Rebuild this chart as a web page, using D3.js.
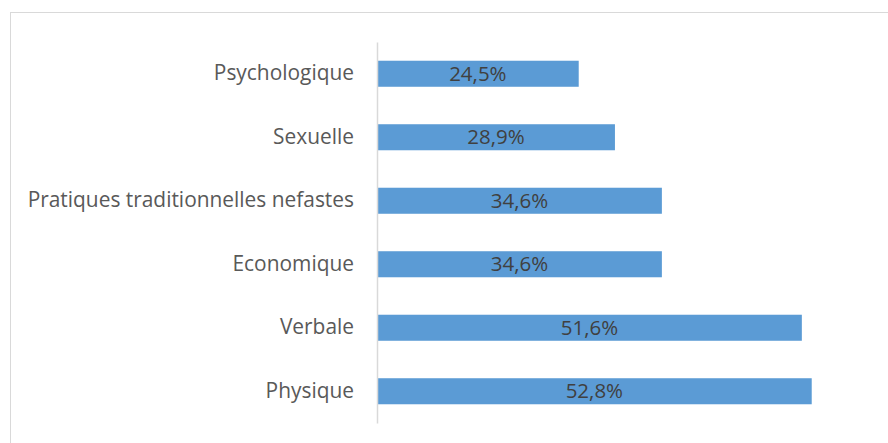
<!DOCTYPE html>
<html>
<head>
<meta charset="utf-8">
<script src="https://cdn.jsdelivr.net/npm/d3@7"></script>
<style>
  body { margin: 0; background: #fff; }
  svg { display: block; }
</style>
</head>
<body>
<div id="chart"></div>
<script>
// values (percent)
const categories = ["Psychologique", "Sexuelle", "Pratiques traditionnelles nefastes", "Economique", "Verbale", "Physique"];
const values = [24.5, 28.9, 34.6, 34.6, 51.6, 52.8];
const xDomain = [0, 60];

const width = 888, height = 443;
const margin = { top: 42, right: 17, bottom: 20, left: 377 };

const svg = d3.select("#chart").append("svg")
    .attr("width", width)
    .attr("height", height);

// chart area border (cropped on the right and bottom in the reference)
svg.append("rect")
    .attr("x", 10.5)
    .attr("y", 12.5)
    .attr("width", 900)
    .attr("height", 460)
    .attr("fill", "none")
    .attr("stroke", "#d9d9d9")
    .attr("stroke-width", 1);

const x = d3.scaleLinear()
    .domain(xDomain)
    .range([margin.left, width - margin.right]);

const y = d3.scaleBand()
    .domain(categories)
    .range([margin.top, height - margin.bottom])
    .paddingInner(0.59)
    .paddingOuter(0.295);

const fmt = (v) => d3.format(".1f")(v).replace(".", ",") + "%";

// bars
svg.append("g")
    .selectAll("rect")
    .data(values)
    .join("rect")
    .attr("x", x(0))
    .attr("y", (d, i) => y(categories[i]))
    .attr("width", (d) => x(d) - x(0))
    .attr("height", y.bandwidth())
    .attr("fill", "#5b9bd5");

// category axis
const yAxis = svg.append("g")
    .attr("transform", "translate(" + x(0) + ",0)")
    .call(d3.axisLeft(y).tickSize(0).tickPadding(23));

yAxis.select(".domain")
    .attr("stroke", "#d9d9d9")
    .attr("stroke-width", 1.5);

yAxis.selectAll("text")
    .attr("fill", "#595959")
    .style("font-family", "'Open Sans', sans-serif")
    .style("font-size", "20.9px");

// value labels
svg.append("g")
    .selectAll("text")
    .data(values)
    .join("text")
    .attr("x", (d) => (x(0) + x(d)) / 2)
    .attr("y", (d, i) => y(categories[i]) + y.bandwidth() / 2)
    .attr("dy", "0.35em")
    .attr("text-anchor", "middle")
    .attr("fill", "#404040")
    .style("font-family", "'Open Sans', sans-serif")
    .style("font-size", "20.5px")
    .text(fmt);
</script>
</body>
</html>
